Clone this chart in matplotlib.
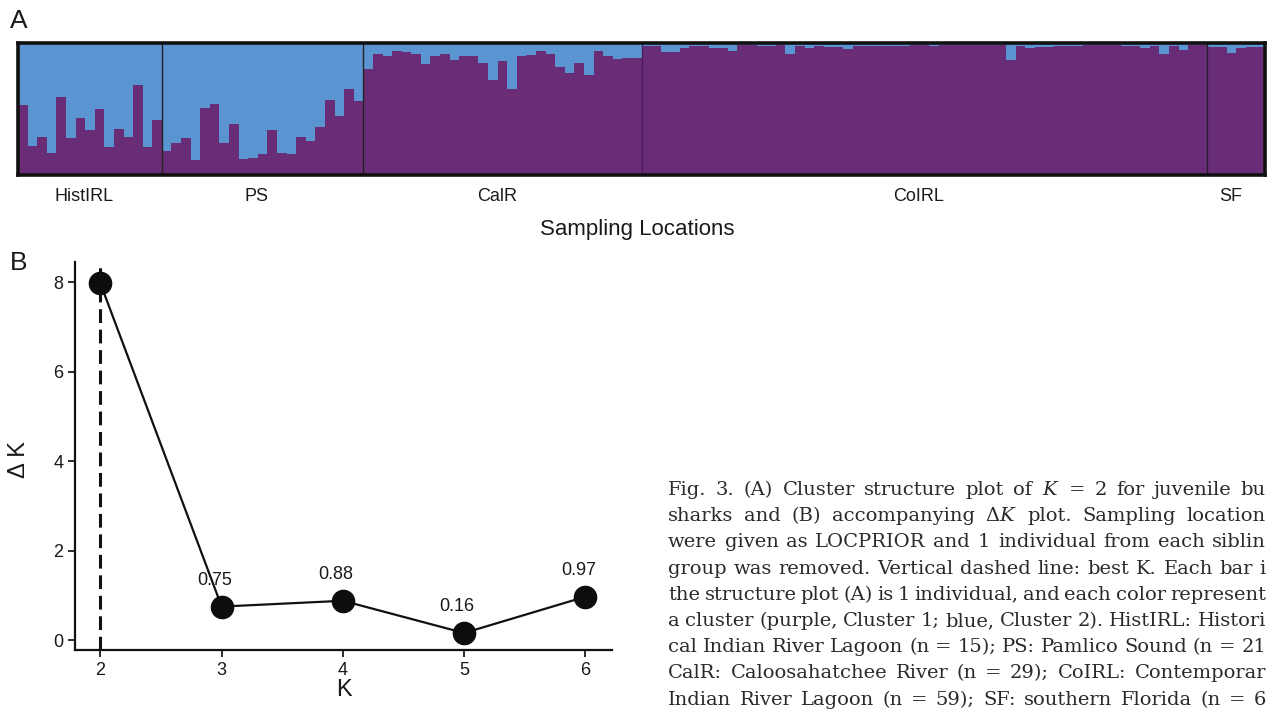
import numpy as np
import matplotlib
matplotlib.use("Agg")
import matplotlib.pyplot as plt

plt.rcParams['font.family'] = ['Liberation Sans', 'DejaVu Sans']
plt.rcParams['mathtext.fontset'] = 'custom'
plt.rcParams['mathtext.rm'] = 'DejaVu Serif'
plt.rcParams['mathtext.it'] = 'DejaVu Serif:italic'

# cluster 1 (purple) share for each individual
hist_irl = [0.53, 0.22, 0.29, 0.17, 0.59, 0.28, 0.43, 0.34, 0.50, 0.21, 0.35, 0.29, 0.68, 0.21, 0.42]
ps = [0.18, 0.24, 0.28, 0.11, 0.51, 0.54, 0.24, 0.39, 0.12, 0.13, 0.16,
      0.34, 0.17, 0.16, 0.29, 0.26, 0.36, 0.57, 0.45, 0.65, 0.56]
calr = [0.80, 0.92, 0.90, 0.94, 0.93, 0.92, 0.84, 0.90, 0.92, 0.87, 0.90, 0.90, 0.85, 0.72, 0.86,
        0.65, 0.90, 0.91, 0.94, 0.92, 0.82, 0.77, 0.85, 0.76, 0.94, 0.90, 0.88, 0.89, 0.89]
coirl = [0.98, 0.98, 0.93, 0.93, 0.96, 0.975, 0.975, 0.96, 0.96, 0.94,
         0.985, 0.985, 0.975, 0.975, 0.985, 0.92, 0.975, 0.96, 0.98, 0.97,
         0.97, 0.955, 0.975, 0.975, 0.98, 0.98, 0.98, 0.98, 0.985, 0.985,
         0.98, 0.985, 0.985, 0.985, 0.985, 0.985, 0.985, 0.985, 0.87, 0.975,
         0.96, 0.972, 0.972, 0.98, 0.975, 0.975, 0.985, 0.985, 0.985, 0.985,
         0.98, 0.98, 0.965, 0.975, 0.917, 0.975, 0.95, 0.985, 0.985]
sf = [0.967, 0.967, 0.925, 0.96, 0.967, 0.967]
group_names = ["HistIRL", "PS", "CalR", "CoIRL", "SF"]

# delta K plot
k_values = [2, 3, 4, 5, 6]
delta_k = [7.97, 0.75, 0.88, 0.16, 0.97]
delta_k_labels = ["", "0.75", "0.88", "0.16", "0.97"]

# caption as it shows in the picture (cut at the right edge)
caption_lines = [
    "Fig. 3. (A) Cluster structure plot of $K$ = 2 for juvenile bu",
    "sharks and (B) accompanying Δ$K$ plot. Sampling location",
    "were given as LOCPRIOR and 1 individual from each siblin",
    "group was removed. Vertical dashed line: best K. Each bar i",
    "the structure plot (A) is 1 individual, and each color represent",
    "a cluster (purple, Cluster 1; blue, Cluster 2). HistIRL: Histori",
    "cal Indian River Lagoon (n = 15); PS: Pamlico Sound (n = 21",
    "CalR: Caloosahatchee River (n = 29); CoIRL: Contemporar",
    "Indian River Lagoon (n = 59); SF: southern Florida (n = 6",
]

PURPLE = '#692d78'
BLUE = '#5a95d2'
W, H = 1268, 719

fig = plt.figure(figsize=(W / 100, H / 100), dpi=100)

# ---- panel A : structure plot
groups = [hist_irl, ps, calr, coirl, sf]
q = np.concatenate([np.array(g) for g in groups])
x = np.arange(len(q))
axA = fig.add_axes([18 / W, 1 - 175 / H, 1247 / W, 132 / H])
axA.bar(x, q, width=1.0, align='edge', color=PURPLE, linewidth=0)
axA.bar(x, 1 - q, bottom=q, width=1.0, align='edge', color=BLUE, linewidth=0)
axA.set_xlim(0, len(q))
axA.set_ylim(0, 1)
axA.set_xticks([])
axA.set_yticks([])
for s in axA.spines.values():
    s.set_linewidth(2.6)
    s.set_color('#111111')

bounds = np.cumsum([len(g) for g in groups])
starts = np.concatenate([[0], bounds[:-1]])
div_colors = ['#222222', '#222222', '#4b1d58', '#2a1a30']
for b, c in zip(bounds[:-1], div_colors):
    axA.axvline(b, color=c, lw=1.0)

trans = axA.get_xaxis_transform()
for name, s0, b in zip(group_names, starts, bounds):
    axA.text((s0 + b) / 2 - 0.6, -0.16, name, transform=trans, ha='center', va='center',
             fontsize=13, color='#1a1a1a')

fig.text(637 / W, 1 - 230 / H, "Sampling Locations", ha='center', va='center',
         fontsize=16, color='#1a1a1a')
fig.text(10 / W, 1 - 21 / H, "A", ha='left', va='center', fontsize=19, color='#1a1a1a')

# ---- panel B : delta K
axB = fig.add_axes([75 / W, 1 - 650 / H, 537 / W, 388 / H])
axB.axvline(k_values[0], color='#111111', lw=2.2, linestyle=(0, (4.5, 2.2)), zorder=1)
axB.plot(k_values, delta_k, color='#111111', lw=1.6, zorder=2)
axB.plot(k_values, delta_k, 'o', color='#0d0d0d', markersize=16, zorder=3)
for k, v, lab in zip(k_values, delta_k, delta_k_labels):
    if lab:
        axB.annotate(lab, (k, v), textcoords='offset points', xytext=(-5, 19),
                     ha='center', va='center', fontsize=13, color='#1a1a1a')
axB.set_xlim(1.79, 6.22)
axB.set_ylim(-0.22, 8.45)
axB.set_xticks(k_values)
axB.set_yticks([0, 2, 4, 6, 8])
axB.tick_params(labelsize=13, length=5, width=1.3, colors='#1a1a1a')
for s in ['top', 'right']:
    axB.spines[s].set_visible(False)
for s in ['left', 'bottom']:
    axB.spines[s].set_linewidth(1.6)
    axB.spines[s].set_color('#111111')
axB.set_xlabel("K", fontsize=17, color='#1a1a1a')
axB.set_ylabel("Δ K", fontsize=17, color='#1a1a1a')
axB.xaxis.set_label_coords(0.5, -0.075)
axB.yaxis.set_label_coords(-0.083, 0.49)
fig.text(10 / W, 1 - 263 / H, "B", ha='left', va='center', fontsize=19, color='#1a1a1a')

# ---- caption, justified word by word
fig.canvas.draw()
r = fig.canvas.get_renderer()
x0, x1 = 668, 1266
for i, line in enumerate(caption_lines):
    y = 1 - (490 + 26.2 * i) / H
    words = line.split(' ')
    size = 14
    while True:
        ts = [fig.text(0, y, w, ha='left', va='center', fontsize=size,
                       family='DejaVu Serif', color='#2a2a2a') for w in words]
        widths = [t.get_window_extent(r).width for t in ts]
        gap = (x1 - x0 - sum(widths)) / (len(words) - 1)
        if gap >= 0.22 * size * 100 / 72 or size < 11:
            break
        for t in ts:
            t.remove()
        size -= 0.25
    xx = x0
    for t, w in zip(ts, widths):
        t.set_x(xx / W)
        xx += w + gap

fig.savefig("out.png", dpi=100)
